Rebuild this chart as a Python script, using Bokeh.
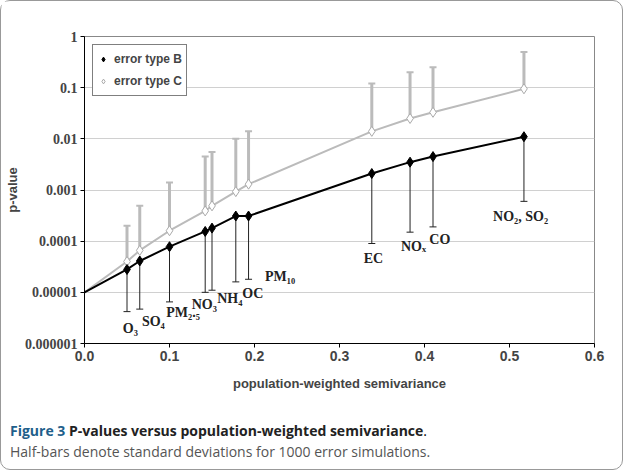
from bokeh.plotting import figure
from bokeh.models import ColumnDataSource, Whisker, Legend, LegendItem, FixedTicker, Div, CustomJSTickFormatter
from bokeh.layouts import column
from bokeh.embed import file_html
from bokeh.resources import INLINE
from bokeh.core.properties import value

names = ["O3", "SO4", "PM2.5", "NO3", "NH4", "OC", "PM10", "EC", "NOx", "CO", "NO2,SO2"]
semivar = [0.05, 0.065, 0.1, 0.142, 0.150, 0.178, 0.193, 0.338, 0.383, 0.410, 0.517]
p_b = [2.8e-5, 4.1e-5, 7.8e-5, 1.55e-4, 1.8e-4, 3.1e-4, 3.1e-4, 2.1e-3, 3.5e-3, 4.5e-3, 1.1e-2]
p_b_low = [4.2e-6, 4.7e-6, 6.5e-6, 1.0e-5, 1.1e-5, 1.6e-5, 1.8e-5, 9e-5, 1.5e-4, 1.9e-4, 6e-4]
p_c = [4e-5, 6.6e-5, 1.6e-4, 3.9e-4, 4.9e-4, 9.3e-4, 1.3e-3, 1.4e-2, 2.5e-2, 3.3e-2, 9.5e-2]
p_c_high = [2e-4, 4.9e-4, 1.4e-3, 4.5e-3, 5.5e-3, 1.0e-2, 1.4e-2, 0.12, 0.2, 0.25, 0.5]
origin = [0.0, 1e-5]

label_text = ["O₃", "SO₄", "PM₂.₅", "NO₃", "NH₄", "OC", "PM₁₀", "EC", "NOₓ", "CO", "NO₂, SO₂"]
label_x = [0.054, 0.081, 0.116, 0.141, 0.171, 0.198, 0.23, 0.34, 0.387, 0.418, 0.513]
label_y = [2e-6, 2.7e-6, 4e-6, 5.8e-6, 7.7e-6, 9.7e-6, 2e-5, 4.5e-5, 7.7e-5, 1.1e-4, 3.1e-4]

y_ticks = [1e-6, 1e-5, 1e-4, 1e-3, 1e-2, 1e-1, 1]
x_ticks = [0.0, 0.1, 0.2, 0.3, 0.4, 0.5, 0.6]

p = figure(width=611, height=414, y_axis_type="log", x_range=(0, 0.6), y_range=(1e-6, 1),
           output_backend="svg", toolbar_location=None, min_border_left=50, min_border_right=18,
           min_border_top=35, min_border_bottom=72)
p.outline_line_color = "#888888"
p.background_fill_color = "white"
p.border_fill_color = "white"
p.xgrid.grid_line_color = None
p.ygrid.grid_line_color = "#d0d0d0"
p.ygrid.minor_grid_line_color = None

src = ColumnDataSource(dict(x=semivar, b=p_b, bl=p_b_low, c=p_c, ch=p_c_high))
p.add_layout(Whisker(source=src, base="x", lower="c", upper="ch", line_color="#bbbbbb", line_width=3,
                     upper_head=None, lower_head=None))
p.add_layout(Whisker(source=src, base="x", lower="bl", upper="b", line_color="#222222", line_width=1,
                     upper_head=None, lower_head=None))
p.dash(semivar, p_c_high, size=7, line_color="#bbbbbb", line_width=2)
p.dash(semivar, p_b_low, size=7, line_color="#222222", line_width=1)

p.line([origin[0]] + semivar, [origin[1]] + p_c, line_color="#bbbbbb", line_width=2)
p.line([origin[0]] + semivar, [origin[1]] + p_b, line_color="black", line_width=2)
rc = p.scatter("x", "c", source=src, marker="diamond", size=10, fill_color="white", line_color="#aaaaaa")
rb = p.scatter("x", "b", source=src, marker="diamond", size=10, fill_color="black", line_color="black")

p.text(label_x, label_y, text=label_text, text_font=value("Liberation Serif"), text_font_style="bold",
       text_font_size="14px", text_align="center", text_baseline="middle", text_color="#222222")

leg = Legend(items=[LegendItem(label="error type B", renderers=[rb]),
                    LegendItem(label="error type C", renderers=[rc])],
             location="top_left", border_line_color="black", label_text_font_size="12px",
             label_text_font="Liberation Sans", label_text_font_style="bold", glyph_width=12,
             label_height=14, spacing=2, padding=4, margin=8, background_fill_alpha=1)
p.add_layout(leg)

p.yaxis.ticker = FixedTicker(ticks=y_ticks)
p.yaxis.formatter = CustomJSTickFormatter(code="return String(parseFloat(tick.toPrecision(1)));")
p.xaxis.ticker = FixedTicker(ticks=x_ticks)
p.xaxis.formatter = CustomJSTickFormatter(code="return tick.toFixed(1);")
for ax in (p.xaxis, p.yaxis):
    ax.major_label_text_font = "Liberation Sans Narrow"
    ax.major_label_text_font_style = "bold"
    ax.major_label_text_font_size = "14px"
    ax.axis_label_text_font = "Liberation Sans"
    ax.axis_label_text_font_style = "bold"
    ax.axis_label_text_font_size = "13px"
    ax.minor_tick_line_color = None
    ax.major_tick_out = 4
    ax.major_tick_in = 0
    ax.major_label_standoff = 3
    ax.axis_label_standoff = 2
p.xaxis.major_label_text_font = "Liberation Sans"
p.xaxis.axis_label_standoff = 12
p.xaxis.axis_label = "population-weighted semivariance"
p.yaxis.axis_label = "p-value"

cap = Div(text='<div style="font-family:\'Open Sans\',sans-serif;font-size:14px;line-height:21px;padding-left:4px">'
               '<span style="color:#1f5f8b;font-weight:bold">Figure 3</span> '
               '<b style="color:#222">P-values versus population-weighted semivariance</b>.<br>'
               '<span style="color:#555">Half-bars denote standard deviations for 1000 error simulations.</span></div>',
          width=611, height=44)

lay = column(p, cap, spacing=0, styles={"border": "1px solid #999", "border-radius": "10px", "background": "white"})
open("out.html", "w").write(file_html(lay, INLINE))
